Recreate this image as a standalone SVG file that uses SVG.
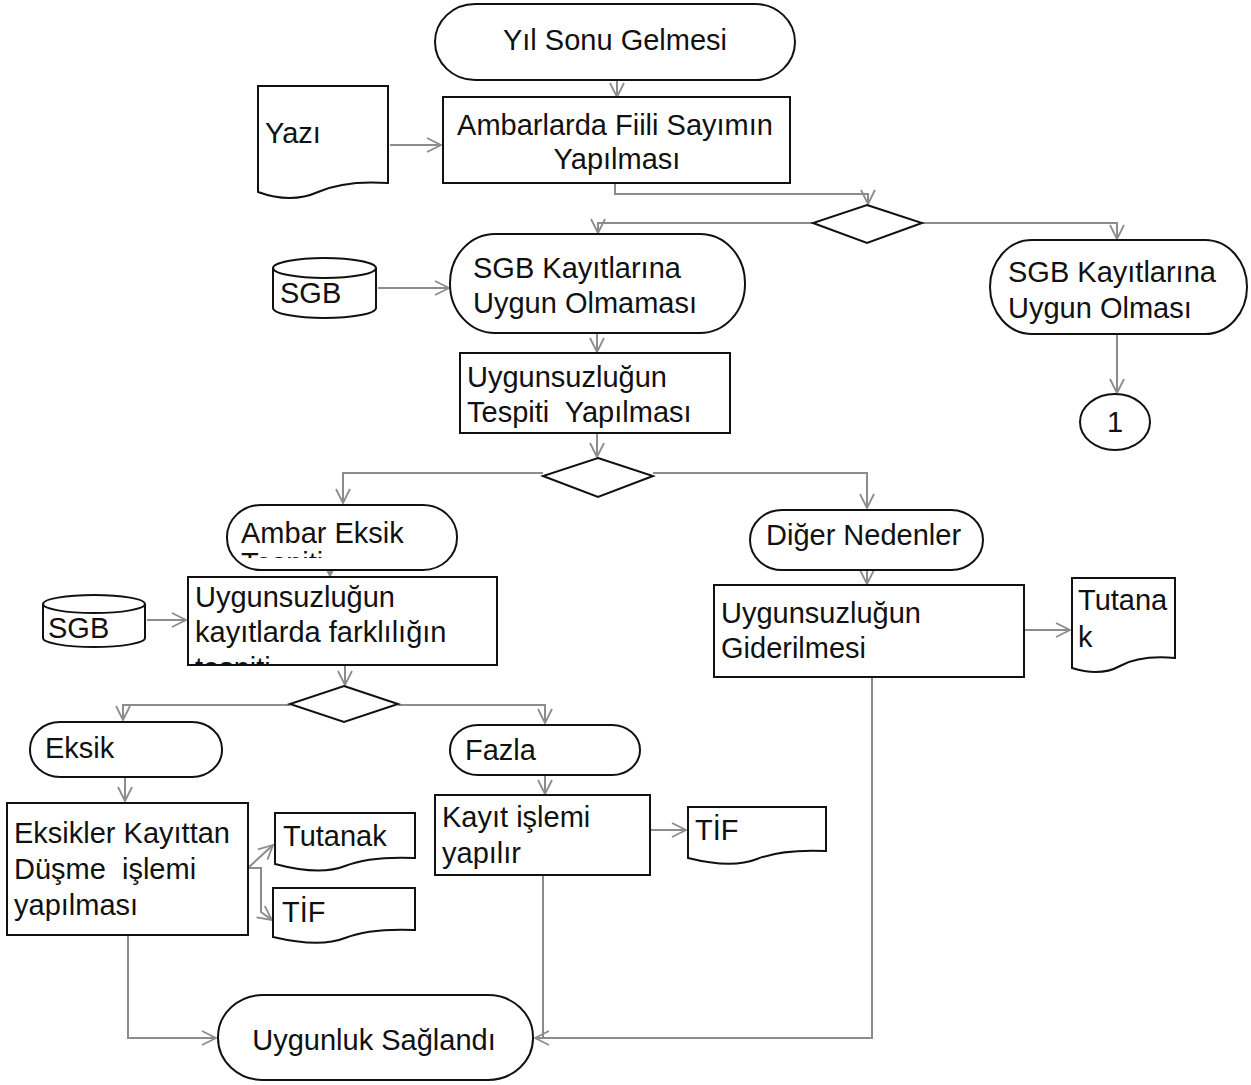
<svg xmlns="http://www.w3.org/2000/svg" width="1251" height="1085" viewBox="0 0 1251 1085">
<style>
.shape{fill:#fff;stroke:#111;stroke-width:2}
.conn{fill:none;stroke:#8c8c8c;stroke-width:2;marker-end:url(#arr)}
.line{fill:none;stroke:#8c8c8c;stroke-width:2}
text{font-family:"Liberation Sans",Arial,sans-serif;font-size:29px;fill:#111;white-space:pre}
.c{text-anchor:middle}
</style>
<defs>
<marker id="arr" markerUnits="userSpaceOnUse" markerWidth="16" markerHeight="16" viewBox="0 0 16 16" refX="15" refY="8" orient="auto">
<path d="M1,1 L15,8 L1,15" fill="none" stroke="#8c8c8c" stroke-width="1.8"/>
</marker>
<clipPath id="clipAmbar"><rect x="227" y="505" width="230" height="53"/></clipPath>
<clipPath id="clipKayit"><rect x="188" y="577" width="309" height="88"/></clipPath>
</defs>
<rect width="1251" height="1085" fill="#fff"/>

<g id="connectors">
<path class="conn" d="M617,80 V97"/>
<path class="conn" d="M390,145 H441"/>
<path class="conn" d="M615,183 V194 H868 V204"/>
<path class="conn" d="M813,223 H598 V233"/>
<path class="conn" d="M922,223 H1117 V239"/>
<path class="conn" d="M378,288 H449"/>
<path class="conn" d="M597,333 V352"/>
<path class="conn" d="M1117,334 V393"/>
<path class="conn" d="M597,433 V457"/>
<path class="conn" d="M543,473 H343 V503"/>
<path class="conn" d="M653,473 H867 V508"/>
<path class="conn" d="M330,558 V576"/>
<path class="conn" d="M147,620 H186"/>
<path class="conn" d="M345,665 V685"/>
<path class="conn" d="M290,705 H123 V720"/>
<path class="conn" d="M398,705 H545 V723"/>
<path class="conn" d="M867,568 V584"/>
<path class="conn" d="M1024,630 H1070"/>
<path class="conn" d="M872,677 V1038 H535"/>
<path class="conn" d="M125,777 V801"/>
<path class="conn" d="M248,868 L273,845"/>
<path class="conn" d="M248,868 H261 V912 L272,920"/>
<path class="conn" d="M545,775 V794"/>
<path class="conn" d="M650,830 H686"/>
<path class="line" d="M543,875 V1038"/>
<path class="conn" d="M128,935 V1038 H216"/>
</g>

<g id="n-yil"><rect class="shape" x="435" y="4" width="360" height="76" rx="40" ry="38"/><text class="c" x="615" y="50">Yıl Sonu Gelmesi</text></g>
<g id="n-ambarlarda"><rect class="shape" x="443" y="97" width="347" height="86"/><text class="c" x="615" y="135">Ambarlarda Fiili Sayımın</text><text class="c" x="617" y="169">Yapılması</text></g>
<g id="n-yazi"><path class="shape" d="M258,86 H388 V183 Q345,180 318,192 T258,192 Z"/><text x="265" y="143">Yazı</text></g>
<g id="n-d1"><polygon class="shape" points="867,205 922,223 867,243 813,223"/></g>
<g id="n-sgb1"><path class="shape" d="M273,268 A51.5,10 0 0 1 376,268 V308 A51.5,10 0 0 1 273,308 Z"/><path class="shape" style="fill:none" d="M273,268 A51.5,10 0 0 0 376,268"/><text x="280" y="303">SGB</text></g>
<g id="n-olmamasi"><rect class="shape" x="450" y="234" width="295" height="99" rx="45" ry="49"/><text x="473" y="278">SGB Kayıtlarına</text><text x="473" y="313">Uygun Olmaması</text></g>
<g id="n-olmasi"><rect class="shape" x="990" y="240" width="257" height="94" rx="42" ry="47"/><text x="1008" y="282">SGB Kayıtlarına</text><text x="1008" y="318">Uygun Olması</text></g>
<g id="n-one"><ellipse class="shape" cx="1115" cy="422" rx="35" ry="28"/><text class="c" x="1115" y="432">1</text></g>
<g id="n-tespit"><rect class="shape" x="460" y="353" width="270" height="80"/><text x="467" y="387">Uygunsuzluğun</text><text x="467" y="422">Tespiti  Yapılması</text></g>
<g id="n-d2"><polygon class="shape" points="598,458 653,476 598,497 543,476"/></g>
<g id="n-ambareksik"><rect class="shape" x="227" y="505" width="230" height="65" rx="34" ry="32"/><text x="241" y="543">Ambar Eksik</text><text x="241" y="573" clip-path="url(#clipAmbar)">Tespiti</text></g>
<g id="n-diger"><rect class="shape" x="750" y="510" width="233" height="60" rx="32" ry="30"/><text x="766" y="545">Diğer Nedenler</text></g>
<g id="n-kayitlarda"><rect class="shape" x="188" y="577" width="309" height="88"/><text x="195" y="607">Uygunsuzluğun</text><text x="195" y="642">kayıtlarda farklılığın</text><text x="195" y="678" clip-path="url(#clipKayit)">tespiti</text></g>
<g id="n-sgb2"><path class="shape" d="M43,604 A51,9 0 0 1 145,604 V638 A51,9 0 0 1 43,638 Z"/><path class="shape" style="fill:none" d="M43,604 A51,9 0 0 0 145,604"/><text x="48" y="638">SGB</text></g>
<g id="n-giderilmesi"><rect class="shape" x="714" y="585" width="310" height="92"/><text x="721" y="623">Uygunsuzluğun</text><text x="721" y="658">Giderilmesi</text></g>
<g id="n-tutana"><path class="shape" d="M1072,578 H1175 V658 Q1140,655 1120,666 T1072,668 Z"/><text x="1078" y="610">Tutana</text><text x="1078" y="647">k</text></g>
<g id="n-d3"><polygon class="shape" points="344,686 398,704 344,722 290,704"/></g>
<g id="n-eksik"><rect class="shape" x="30" y="722" width="192" height="55" rx="30" ry="27"/><text x="45" y="758">Eksik</text></g>
<g id="n-fazla"><rect class="shape" x="450" y="725" width="190" height="50" rx="28" ry="25"/><text x="465" y="760">Fazla</text></g>
<g id="n-eksikler"><rect class="shape" x="7" y="803" width="241" height="132"/><text x="14" y="843">Eksikler Kayıttan</text><text x="14" y="879">Düşme  işlemi</text><text x="14" y="915">yapılması</text></g>
<g id="n-tutanak"><path class="shape" d="M275,813 H415 V858 Q370,856 345,866 T275,864 Z"/><text x="283" y="846">Tutanak</text></g>
<g id="n-tif1"><path class="shape" d="M273,888 H415 V930 Q370,928 345,938 T273,937 Z"/><text x="282" y="922">TİF</text></g>
<g id="n-kayit"><rect class="shape" x="435" y="795" width="215" height="80"/><text x="442" y="827">Kayıt işlemi</text><text x="442" y="863">yapılır</text></g>
<g id="n-tif2"><path class="shape" d="M688,807 H826 V851 Q782,849 757,859 T688,858 Z"/><text x="695" y="840">TİF</text></g>
<g id="n-uygunluk"><rect class="shape" x="218" y="995" width="315" height="85" rx="45" ry="42"/><text class="c" x="374" y="1050">Uygunluk Sağlandı</text></g>
</svg>
